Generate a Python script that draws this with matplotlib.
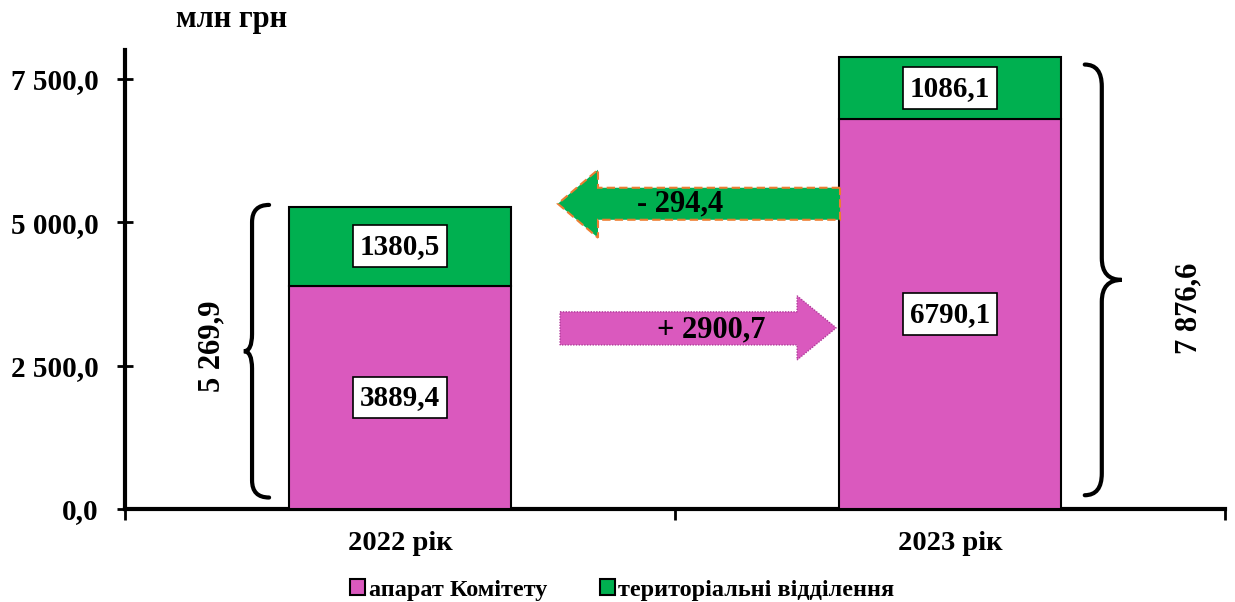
import matplotlib
matplotlib.use('Agg')

import numpy as np
import matplotlib.pyplot as plt
import matplotlib.patches as mpatches
from matplotlib.path import Path
from matplotlib.ticker import FuncFormatter

# дані
years = ['2022 рік', '2023 рік']
aparat = [3889.4, 6790.1]
terr = [1380.5, 1086.1]
totals = ['5 269,9', '7 876,6']
delta_aparat = '+ 2900,7'
delta_terr = '- 294,4'
series_names = ['апарат Комітету', 'територіальні відділення']

MAGENTA = '#DA59BE'
GREEN = '#00B050'
FONT = 'Liberation Serif'

plt.rcParams['font.family'] = [FONT, 'DejaVu Serif']
plt.rcParams['font.weight'] = 'bold'

fig = plt.figure(figsize=(12.35, 6.02), dpi=100)
ax = fig.add_axes([125/1235, 1 - 509/602, 1100/1235, 459/602])

x = np.arange(len(years))
w = 0.404
b1 = ax.bar(x, aparat, w, color=MAGENTA, edgecolor='black', lw=1.5,
            label=series_names[0], zorder=3)
b2 = ax.bar(x, terr, w, bottom=aparat, color=GREEN, edgecolor='black', lw=1.5,
            label=series_names[1], zorder=3)

box = dict(facecolor='white', edgecolor='black', lw=1.2, boxstyle='square,pad=0.25')
for i in range(len(years)):
    ax.text(x[i], aparat[i] / 2, f'{aparat[i]:.1f}'.replace('.', ','),
            ha='center', va='center', fontsize=21, fontweight='bold', bbox=box, zorder=5)
    ax.text(x[i], aparat[i] + terr[i] / 2, f'{terr[i]:.1f}'.replace('.', ','),
            ha='center', va='center', fontsize=21, fontweight='bold', bbox=box, zorder=5)


def brace(ax, xv, xe, xt, y0, y1, r):
    # фігурна дужка: xv - вертикаль, xe - кінці, xt - вістря
    ym = (y0 + y1) / 2
    verts = [(xe, y1), (xv, y1), (xv, y1 - r),
             (xv, ym + r),
             (xv, ym), (xt, ym),
             (xv, ym), (xv, ym - r),
             (xv, y0 + r),
             (xv, y0), (xe, y0)]
    codes = [Path.MOVETO, Path.CURVE3, Path.CURVE3,
             Path.LINETO,
             Path.CURVE3, Path.CURVE3,
             Path.CURVE3, Path.CURVE3,
             Path.LINETO,
             Path.CURVE3, Path.CURVE3]
    ax.add_patch(mpatches.PathPatch(Path(verts, codes), fill=False, lw=3,
                                    edgecolor='black', capstyle='round', zorder=4))


total_vals = [a + t for a, t in zip(aparat, terr)]
brace(ax, -0.269, -0.238, -0.284, 200, total_vals[0] + 30, 300)
brace(ax, 1.276, 1.245, 1.312, 240, total_vals[1] - 130, 380)

ax.text(-0.342, 2830, totals[0], rotation=90, ha='center', va='center',
        fontsize=22, fontweight='bold')
ax.text(1.434, 3500, totals[1], rotation=90, ha='center', va='center',
        fontsize=22, fontweight='bold')

# стрілки
left_arrow = [(0.80, 5599), (0.36, 5599), (0.36, 5913), (0.287, 5320),
              (0.36, 4727), (0.36, 5041), (0.80, 5041)]
ax.add_patch(mpatches.Polygon(left_arrow, closed=True, facecolor=GREEN,
                              edgecolor='#ED7D31', lw=1.5, ls=(0, (4, 2)), zorder=4))
ax.text(0.51, 5320, delta_terr, ha='center', va='center', fontsize=22,
        fontweight='bold', zorder=5)

right_arrow = [(0.291, 3436), (0.722, 3436), (0.722, 3715), (0.793, 3157),
               (0.722, 2599), (0.722, 2860), (0.291, 2860)]
ax.add_patch(mpatches.Polygon(right_arrow, closed=True, facecolor=MAGENTA,
                              edgecolor='#B0399A', lw=1.0, ls=(0, (1, 1)), zorder=4))
ax.text(0.566, 3130, delta_aparat, ha='center', va='center', fontsize=22,
        fontweight='bold', zorder=5)

ax.set_xlim(-0.5, 1.5)
ax.set_ylim(0, 8000)
ax.set_yticks([0, 2500, 5000, 7500])
ax.yaxis.set_major_formatter(FuncFormatter(
    lambda v, p: f'{v:,.1f}'.replace(',', ' ').replace('.', ',')))
ax.set_xticks([-0.5, 0.5, 1.5])
ax.set_xticklabels([])
ax.tick_params(axis='y', direction='inout', length=12, width=2, labelsize=21, pad=13)
ax.tick_params(axis='x', direction='out', length=8, width=2)
for lab in ax.get_yticklabels():
    lab.set_fontweight('bold')

for i, yr in enumerate(years):
    ax.text(x[i], -0.075, yr, transform=ax.get_xaxis_transform(), ha='center',
            va='center', fontsize=20.5, fontweight='bold')

for s in ['top', 'right']:
    ax.spines[s].set_visible(False)
ax.spines['left'].set_linewidth(3)
ax.spines['bottom'].set_linewidth(3)

fig.text(232/1235, 1 - 20/602, 'млн грн', ha='center', va='center',
         fontsize=22, fontweight='bold')

leg = fig.legend(handles=[b1, b2], loc='center', bbox_to_anchor=(0.504, 1 - 590/602),
                 ncol=2, frameon=False, fontsize=17.5, handlelength=0.6,
                 handleheight=0.6, handletextpad=0.15, columnspacing=2.2)
for t in leg.get_texts():
    t.set_fontweight('bold')

fig.savefig('out.png', dpi=100)
